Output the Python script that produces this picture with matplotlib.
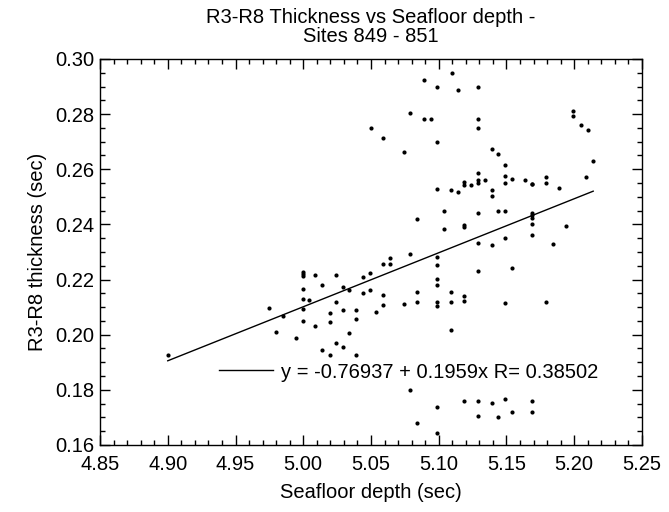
import numpy as np
import matplotlib
matplotlib.use("Agg")
import matplotlib.pyplot as plt
from matplotlib.ticker import MultipleLocator

plt.rcParams['font.family'] = ['Liberation Sans', 'DejaVu Sans']

# seafloor depth (sec) and R3-R8 thickness (sec)
depth = [
    4.900, 4.975, 4.980, 4.985, 4.995,
    5.000, 5.000, 5.000, 5.000, 5.000, 5.000, 5.000, 5.004,
    5.009, 5.009, 5.014, 5.014, 5.020, 5.020, 5.020,
    5.024, 5.024, 5.024, 5.029, 5.029, 5.029,
    5.034, 5.034, 5.039, 5.039, 5.039, 5.044, 5.044,
    5.049, 5.049, 5.050, 5.054, 5.059, 5.059, 5.059, 5.059,
    5.064, 5.064, 5.074, 5.074, 5.079, 5.079, 5.079,
    5.084, 5.084, 5.084, 5.084,
    5.089, 5.089, 5.094,
    5.099, 5.099, 5.099, 5.099, 5.099, 5.099, 5.099, 5.099, 5.099, 5.099, 5.099,
    5.104, 5.104, 5.109, 5.109, 5.109, 5.109, 5.110, 5.114, 5.114,
    5.119, 5.119, 5.119, 5.119, 5.119, 5.119, 5.119, 5.124,
    5.129, 5.129, 5.129, 5.129, 5.129, 5.129, 5.129, 5.129, 5.129, 5.129, 5.129,
    5.134, 5.139, 5.139, 5.139, 5.139, 5.139,
    5.144, 5.144, 5.144, 5.149, 5.149, 5.149, 5.149, 5.149, 5.149, 5.149,
    5.154, 5.154, 5.154, 5.164,
    5.169, 5.169, 5.169, 5.169, 5.169, 5.169, 5.169, 5.169, 5.169,
    5.179, 5.179, 5.179, 5.184, 5.189, 5.194,
    5.199, 5.199, 5.205, 5.209, 5.210, 5.214,
]
thickness = [
    0.1926, 0.2096, 0.2008, 0.2069, 0.1987,
    0.2229, 0.2221, 0.2212, 0.2165, 0.2128, 0.2093, 0.2051, 0.2126,
    0.2217, 0.2033, 0.2181, 0.1945, 0.2079, 0.2045, 0.1927,
    0.2217, 0.2120, 0.1970, 0.2172, 0.2091, 0.1957,
    0.2163, 0.2006, 0.2091, 0.2057, 0.1927, 0.2211, 0.2150,
    0.2223, 0.2163, 0.2748, 0.2081, 0.2255, 0.2144, 0.2108, 0.2712,
    0.2279, 0.2255, 0.2661, 0.2110, 0.2803, 0.2293, 0.1799,
    0.2418, 0.2156, 0.2119, 0.1678,
    0.2924, 0.2784, 0.2784,
    0.2899, 0.2699, 0.2528, 0.2281, 0.2253, 0.2203, 0.2182, 0.2118, 0.2105, 0.1738, 0.1645,
    0.2447, 0.2385, 0.2526, 0.2156, 0.2118, 0.2018, 0.2948, 0.2887, 0.2518,
    0.2553, 0.2542, 0.2399, 0.2389, 0.2142, 0.2124, 0.1758, 0.2544,
    0.2897, 0.2784, 0.2750, 0.2585, 0.2549, 0.2442, 0.2332, 0.2230, 0.1758, 0.1705, 0.2560,
    0.2560, 0.2672, 0.2526, 0.2503, 0.2324, 0.1754,
    0.2655, 0.2447, 0.1702, 0.2615, 0.2576, 0.2550, 0.2450, 0.2350, 0.2114, 0.1768,
    0.2565, 0.2243, 0.1720, 0.2561,
    0.2547, 0.2440, 0.2433, 0.2423, 0.2400, 0.2362, 0.1758, 0.1721, 0.2547,
    0.2571, 0.2552, 0.2118, 0.2330, 0.2533, 0.2396,
    0.2811, 0.2794, 0.2760, 0.2571, 0.2741, 0.2630,
]

# regression printed on the chart
intercept = -0.76937
slope = 0.1959
r_value = 0.38502

fig = plt.figure(figsize=(6.69, 5.12), dpi=100)
ax = fig.add_axes([0.1495, 0.1309, 0.8101, 0.7539])

ax.plot(depth, thickness, 'o', color='black', markersize=3.0, markeredgewidth=0)

xfit = np.array([min(depth), max(depth)])
ax.plot(xfit, intercept + slope * xfit, color='black', linewidth=1.0,
        label=f"y = {intercept} + {slope}x R= {r_value}")

ax.set_xlim(4.85, 5.25)
ax.set_ylim(0.16, 0.30)
ax.xaxis.set_major_locator(MultipleLocator(0.05))
ax.xaxis.set_minor_locator(MultipleLocator(0.01))
ax.yaxis.set_major_locator(MultipleLocator(0.02))
ax.yaxis.set_minor_locator(MultipleLocator(0.005))
ax.xaxis.set_major_formatter(plt.FormatStrFormatter('%.2f'))
ax.yaxis.set_major_formatter(plt.FormatStrFormatter('%.2f'))
ax.tick_params(which='both', direction='in', top=True, right=True, width=1.0)
ax.tick_params(which='major', length=7, labelsize=14.5)
ax.tick_params(axis='x', which='major', pad=7)
ax.tick_params(axis='y', which='major', pad=4)
ax.tick_params(which='minor', length=3.5)
for s in ax.spines.values():
    s.set_linewidth(1.0)

ax.set_xlabel('Seafloor depth (sec)', fontsize=14.5, labelpad=7)
ax.set_ylabel('R3-R8 thickness (sec)', fontsize=14.5, labelpad=6)
ax.set_title('R3-R8 Thickness vs Seafloor depth -\nSites 849 - 851', fontsize=14.5,
             linespacing=1.05, pad=12)

ax.legend(loc='center left', bbox_to_anchor=(0.2196, 0.189), frameon=False,
          fontsize=14.5, handlelength=2.7, handletextpad=0.4,
          borderpad=0, borderaxespad=0)

fig.savefig('out.png', dpi=100)
